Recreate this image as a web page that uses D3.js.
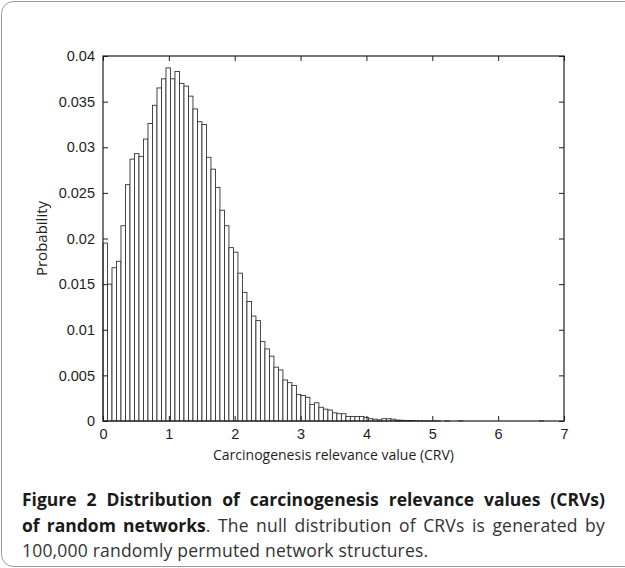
<!DOCTYPE html>
<html lang="en">
<head>
  <meta charset="UTF-8">
  <title>CRV null distribution</title>
  <script src="https://d3js.org/d3.v7.min.js"></script>
  <style>
    body { margin: 0; background: #fff; }
    svg { display: block; font-family: "Open Sans", sans-serif; }
  </style>
</head>
<body>
  <svg id="chart"></svg>

  <script>
    // histogram: 100 equal bins starting at 0
    const binWidth = 0.0683;
    const probabilities = [
      0.0195, 0.0150, 0.0168, 0.0175, 0.0214, 0.0259, 0.0287, 0.0293, 0.0290, 0.0309,
      0.0326, 0.0346, 0.0365, 0.0375, 0.0387, 0.0375, 0.0383, 0.0370, 0.0367, 0.0356,
      0.0342, 0.0328, 0.0325, 0.0289, 0.0276, 0.0256, 0.0231, 0.0214, 0.0190, 0.0185,
      0.0162, 0.0141, 0.0131, 0.0115, 0.0110, 0.0087, 0.0079, 0.0071, 0.0059, 0.0056,
      0.0045, 0.0042, 0.0039, 0.0029, 0.0028, 0.0026, 0.0018, 0.0020, 0.0015, 0.0013,
      0.0012, 0.0009, 0.0008, 0.0008, 0.0005, 0.0005, 0.0005, 0.0005, 0.0004, 0.00025,
      0.0002, 0.00013, 0.00025, 0.00025, 0.0002, 0.0001, 0.00008, 0.00005, 0.00005, 0.00003,
      0.00002, 0.00002, 0.00001, 0.00001, 0.00001, 0, 0.00001, 0, 0, 0.00001,
      0, 0, 0, 0, 0, 0, 0, 0, 0, 0,
      0, 0, 0, 0, 0, 0, 0, 0.00001, 0, 0
    ];
    const xTicks = [0, 1, 2, 3, 4, 5, 6, 7];
    const yTicks = [0, 0.005, 0.01, 0.015, 0.02, 0.025, 0.03, 0.035, 0.04];
    const xTitle = "Carcinogenesis relevance value (CRV)";
    const yTitle = "Probability";
    const captionLines = [
      [{ t: "Figure 2 Distribution of carcinogenesis relevance values (CRVs)", b: true }],
      [{ t: "of random networks", b: true }, { t: ". The null distribution of CRVs is generated by", b: false }],
      [{ t: "100,000 randomly permuted network structures.", b: false }]
    ];

    const width = 625, height = 568;
    const margin = { left: 103, right: 61, top: 56, bottom: 147 };
    const ink = "#1e1e1e";

    const svg = d3.select("#chart")
      .attr("width", width)
      .attr("height", height);

    // outer frame with rounded corners
    svg.append("rect")
      .attr("x", 1.5).attr("y", 1.5)
      .attr("width", 660).attr("height", 565)
      .attr("rx", 12)
      .attr("fill", "none")
      .attr("stroke", "#9a9a9a");

    const x = d3.scaleLinear().domain([0, 7]).range([margin.left, width - margin.right]);
    const y = d3.scaleLinear().domain([0, 0.04]).range([height - margin.bottom, margin.top]);

    // bars
    svg.append("g")
      .selectAll("rect")
      .data(probabilities)
      .join("rect")
      .attr("x", (d, i) => x(i * binWidth))
      .attr("y", d => y(d))
      .attr("width", x(binWidth) - x(0))
      .attr("height", d => y(0) - y(d))
      .attr("fill", "#fff")
      .attr("stroke", "#333")
      .attr("stroke-width", 0.9);

    // axes (box, ticks inside)
    const tickLen = 5;
    const axisStyle = g => {
      g.select(".domain").remove();
      g.selectAll("line").attr("stroke", ink);
      g.selectAll("text").attr("fill", ink).style("font-size", "14.5px");
    };

    svg.append("g")
      .attr("transform", `translate(0,${y(0)})`)
      .call(d3.axisBottom(x).tickValues(xTicks).tickFormat(d3.format("d"))
        .tickSizeInner(-tickLen).tickSizeOuter(0).tickPadding(8))
      .call(axisStyle);

    svg.append("g")
      .attr("transform", `translate(0,${y(0.04)})`)
      .call(d3.axisTop(x).tickValues(xTicks).tickFormat("")
        .tickSizeInner(-tickLen).tickSizeOuter(0))
      .call(axisStyle);

    svg.append("g")
      .attr("transform", `translate(${x(0)},0)`)
      .call(d3.axisLeft(y).tickValues(yTicks).tickFormat(d => d === 0 ? "0" : d3.format("")(+d.toFixed(3)))
        .tickSizeInner(-tickLen).tickSizeOuter(0).tickPadding(8))
      .call(axisStyle);

    svg.append("g")
      .attr("transform", `translate(${x(7)},0)`)
      .call(d3.axisRight(y).tickValues(yTicks).tickFormat("")
        .tickSizeInner(-tickLen).tickSizeOuter(0))
      .call(axisStyle);

    svg.append("rect")
      .attr("x", x(0)).attr("y", y(0.04))
      .attr("width", x(7) - x(0)).attr("height", y(0) - y(0.04))
      .attr("fill", "none")
      .attr("stroke", ink)
      .attr("stroke-width", 1.2);

    // axis titles
    svg.append("text")
      .attr("x", (x(0) + x(7)) / 2)
      .attr("y", y(0) + 39)
      .attr("text-anchor", "middle")
      .attr("fill", ink)
      .style("font-size", "14px")
      .text(xTitle);

    svg.append("text")
      .attr("transform", `translate(47,${(y(0) + y(0.04)) / 2}) rotate(-90)`)
      .attr("text-anchor", "middle")
      .attr("fill", ink)
      .style("font-size", "15px")
      .text(yTitle);

    // caption, first two lines justified
    const capLeft = 22, capRight = 605;
    captionLines.forEach((line, i) => {
      const t = svg.append("text")
        .attr("x", capLeft)
        .attr("y", 506 + i * 25.5);
      line.forEach(part => {
        t.append("tspan")
          .attr("fill", part.b ? "#1a1a1a" : "#333")
          .style("font-weight", part.b ? "bold" : "normal")
          .style("font-size", part.b ? "17.5px" : "17.5px")
          .style("letter-spacing", part.b ? "0" : "0.2px")
          .text(part.t);
      });
      if (i < captionLines.length - 1) {
        const len = t.node().getComputedTextLength();
        const spaces = line.map(p => p.t).join("").split(" ").length - 1;
        t.attr("word-spacing", (capRight - capLeft - len) / spaces);
      }
    });
  </script>
</body>
</html>
